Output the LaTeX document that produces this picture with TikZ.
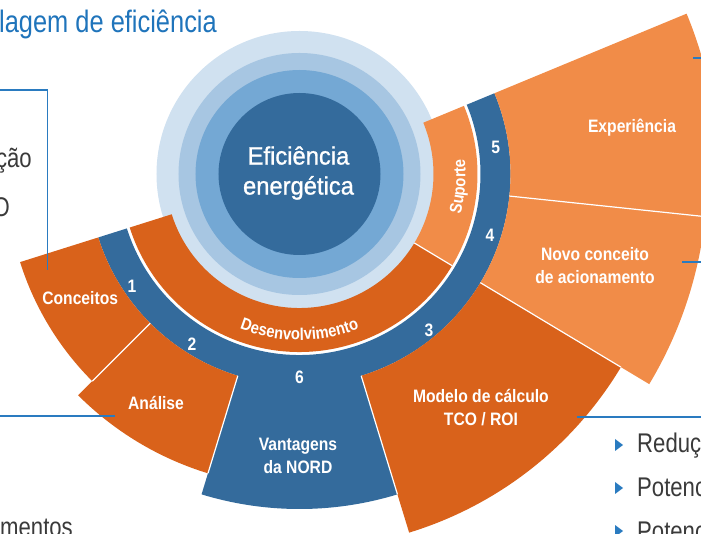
\documentclass[tikz,border=0pt]{standalone}
\usepackage{fontspec}
\setmainfont{Liberation Sans}[FakeStretch=0.87]
\newfontfamily\narrowfont{Liberation Sans}[FakeStretch=0.82]
\newfontfamily\corefont{Liberation Sans}[FakeStretch=0.95, FakeBold=1]
\usepackage{xcolor}
\usetikzlibrary{decorations.text}

\definecolor{nordblue}{HTML}{346B9C}
\definecolor{ringone}{HTML}{D0E1F0}
\definecolor{ringtwo}{HTML}{A7C6E2}
\definecolor{ringthree}{HTML}{74A8D4}
\definecolor{darkorange}{HTML}{D9621B}
\definecolor{lightorange}{HTML}{F18C48}
\definecolor{linkblue}{HTML}{2A7BC0}
\definecolor{titleblue}{HTML}{1F74BB}
\definecolor{bodygray}{HTML}{3A3A3A}

% annular sector: colour, start angle, end angle, inner radius, outer radius
\newcommand{\ringpart}[5]{%
  \fill[#1] (#2:#4pt) arc[start angle=#2, end angle=#3, radius=#4pt]
    -- (#3:#5pt) arc[start angle=#3, end angle=#2, radius=#5pt] -- cycle;}

\begin{document}
\begin{tikzpicture}[x=1pt, y=1pt,
    seg/.style={font=\bfseries\fontsize{18}{23}\selectfont, text=white, align=center},
    num/.style={font=\bfseries\fontsize{18}{18}\selectfont, text=white},
    sep/.style={draw=white, line width=1.2pt},
    link/.style={draw=linkblue, line width=1.3pt},
    body/.style={font=\narrowfont\fontsize{27}{27}\selectfont, text=bodygray, inner sep=0pt},
    curved/.style={decorate, decoration={text along path, text align=center,
        text={|\bfseries\fontsize{17}{17}\selectfont\color{white}|#1}}}
]
\useasboundingbox (-299.5,-360) rectangle (401.5,174);
\clip (-299.5,-360) rectangle (401.5,174);

% Core circles
\fill[ringone] (0,0) circle[radius=143pt];
\fill[ringtwo] (0,0) circle[radius=121pt];
\fill[ringthree] (0,0) circle[radius=104pt];
\fill[nordblue] (0,0) circle[radius=81pt];

% Inner ring
\ringpart{darkorange}{197.5}{329}{134}{178}
\ringpart{lightorange}{329}{382.5}{134}{178}

% Numbered ring
\ringpart{nordblue}{197.5}{382.5}{181}{211}

% Outer segments
\ringpart{darkorange}{197.5}{225}{211}{293}
\ringpart{darkorange}{225}{253}{211}{313}
\ringpart{nordblue}{253}{287}{200}{335}
\ringpart{darkorange}{287}{329}{211}{375}
\ringpart{lightorange}{329}{354}{211}{408}
\ringpart{lightorange}{354}{382.5}{211}{419}

% White separators
\draw[sep] (329:134pt) -- (329:178pt);
\draw[sep] (225:211pt) -- (225:293pt);
\draw[sep] (253:211pt) -- (253:313pt);
\draw[sep] (287:211pt) -- (287:335pt);
\draw[sep] (329:211pt) -- (329:375pt);
\draw[sep] (354:211pt) -- (354:408pt);

% Nodes
\node[font=\corefont\fontsize{25}{30}\selectfont, text=white, align=center] (core) at (-1,1) {Eficiência\\energética};

\path[curved=Desenvolvimento] (230:166pt) arc[start angle=230, end angle=310, radius=166pt];
\path[curved=Suporte] (-40:166pt) arc[start angle=-40, end angle=31, radius=166pt];

\node[num] (n1) at (213.8:201.5pt) {1};
\node[num] (n2) at (237.7:201pt) {2};
\node[num] (n6) at (270:203pt) {6};
\node[num] (n3) at (309.7:202.7pt) {3};
\node[num] (n4) at (342.2:200pt) {4};
\node[num] (n5) at (7.8:198pt) {5};

\node[seg] (conceitos) at (209.5:252pt) {Conceitos};
\node[seg] (analise) at (237.9:270pt) {Análise};
\node[seg] (vantagens) at (-1.5,-282) {Vantagens\\da NORD};
\node[seg] (modelo) at (307.8:296pt) {Modelo de cálculo\\TCO / ROI};
\node[seg] (novo) at (342.7:309.5pt) {Novo conceito\\de acionamento};
\node[seg] (experiencia) at (7.9:335.7pt) {Experiência};

% Texts around the wheel
\node[font=\narrowfont\fontsize{31}{31}\selectfont, text=titleblue, inner sep=0pt, anchor=base west] (title) at (-300.5,141) {lagem de eficiência};
\node[body, anchor=base east] (leftone) at (-267.5,6) {ção};
\node[body, anchor=base east] (lefttwo) at (-289.5,-43) {O};
\node[body, anchor=base west] (bottomleft) at (-299.5,-362) {mentos};
\node[body, anchor=base west] (rightone) at (337.5,-279) {Reduçã};
\node[body, anchor=base west] (righttwo) at (337.5,-323) {Potenc};
\node[body, anchor=base west] (rightthree) at (337.5,-366) {Potenc};

% Bullets
\foreach \y in {-271,-314,-357}
  \fill[linkblue] (315.5,\y+6) -- (323.5,\y) -- (315.5,\y-6) -- cycle;

% Connector lines
\coordinate (conceitos-in) at (-252,-96);
\coordinate (conceitos-out) at (-305,84);
\coordinate (analise-in) at (-184.5,-242);
\coordinate (analise-out) at (-305,-242);
\coordinate (modelo-in) at (277.5,-243);
\coordinate (modelo-out) at (405,-243);
\coordinate (novo-in) at (382.5,-88);
\coordinate (novo-out) at (405,-88);
\coordinate (exp-in) at (393.5,116);
\coordinate (exp-out) at (405,116);

\draw[link] (conceitos-in) |- (conceitos-out);
\draw[link] (analise-in) -- (analise-out);
\draw[link] (modelo-in) -- (modelo-out);
\draw[link] (novo-in) -- (novo-out);
\draw[link] (exp-in) -- (exp-out);

\end{tikzpicture}
\end{document}
